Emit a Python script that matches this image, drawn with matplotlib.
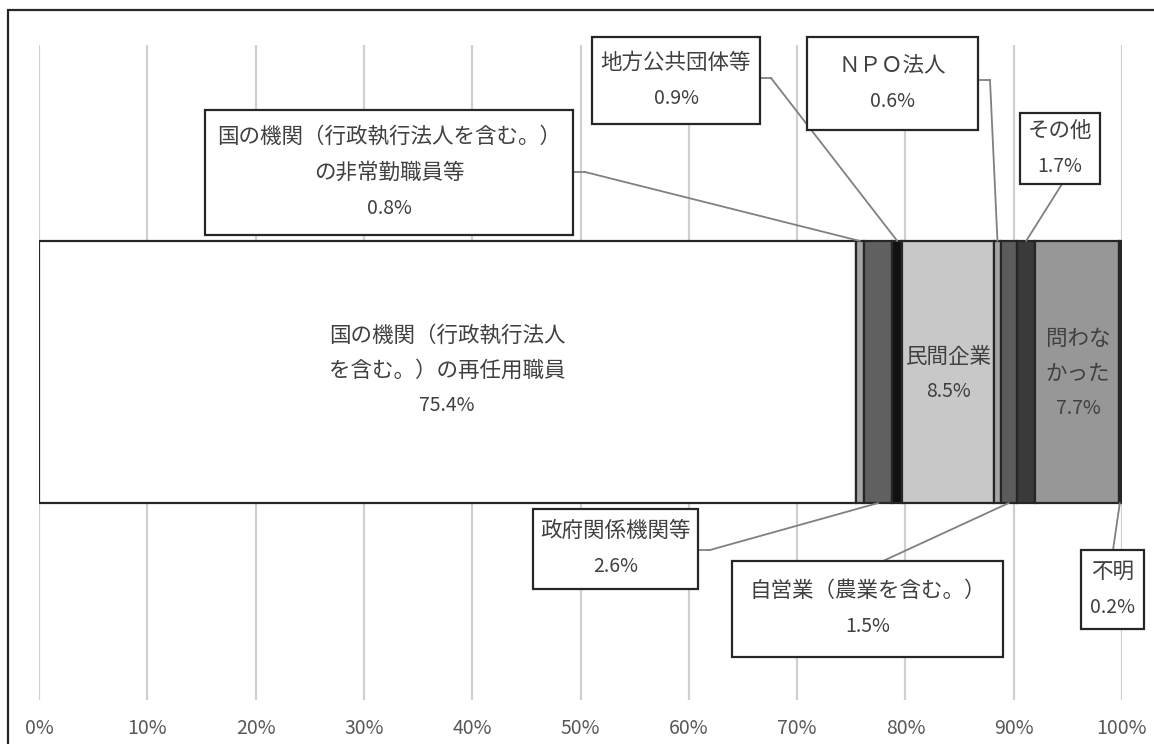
import matplotlib
matplotlib.use('Agg')
import matplotlib.pyplot as plt
from matplotlib.patches import Rectangle
from matplotlib.lines import Line2D
import numpy as np

plt.rcParams['font.family'] = ['Noto Sans CJK JP', 'DejaVu Sans']

categories = ['国の機関（行政執行法人\nを含む。）の再任用職員',
              '国の機関（行政執行法人を含む。）\nの非常勤職員等',
              '政府関係機関等', '地方公共団体等', '民間企業', 'ＮＰＯ法人',
              '自営業（農業を含む。）', 'その他', '問わな\nかった', '不明']
shares = [75.4, 0.8, 2.6, 0.9, 8.5, 0.6, 1.5, 1.7, 7.7, 0.2]
fills = ['#ffffff', '#a6a6a6', '#606060', '#111111', '#c8c8c8',
         '#a6a6a6', '#5c5c5c', '#3a3a3a', '#979797', '#1e1e1e']
ticks = np.arange(0, 101, 10)

W, H = 1154, 744
INK = '#404040'
FS = 14      # digits
FS_JA = 15.5  # kana / kanji lines
GAP = 36


def fp(x, y):
    # pixel (from top-left) -> figure fraction
    return x / W, 1 - y / H


def stacked_text(cx, cy, txt, gap=GAP):
    lines = txt.split('\n')
    n = len(lines)
    for i, s in enumerate(lines):
        y = cy + (i - (n - 1) / 2) * gap
        size = FS if s.isascii() else FS_JA
        fig.text(*fp(cx, y), s, ha='center', va='center', fontsize=size,
                 color=INK, zorder=7)


fig = plt.figure(figsize=(W / 100, H / 100), dpi=100)
ax = fig.add_axes([39 / W, 1 - 700 / H, 1083 / W, 655 / H])

left = np.concatenate([[0], np.cumsum(shares)[:-1]])
ax.barh(0, shares, left=left, height=1, color=fills, edgecolor='#262626',
        linewidth=1.6, zorder=3)

ax.set_xlim(0, 100)
ax.set_ylim(-1.252, 1.248)
ax.set_xticks(ticks)
ax.set_xticklabels([f'{t}%' for t in ticks], fontsize=FS, color='#595959')
ax.set_yticks([])
ax.tick_params(axis='x', length=0, pad=13)
ax.grid(axis='x', color='#d0d0d0', lw=1.6)
ax.set_axisbelow(True)
for sp in ax.spines.values():
    sp.set_visible(False)

# labels inside the big segments
for i, (cx_px, cy_px) in {0: (447, 371), 4: (949, 374), 8: (1078, 374)}.items():
    stacked_text(cx_px, cy_px, f'{categories[i]}\n{shares[i]}%', gap=35)

# callout boxes: box (x0, y0, x1, y1), anchor, elbow, bar side
callouts = {
    1: ((205, 110, 573, 235), (573, 172), (585, 172), 0.5),
    3: ((592, 37, 760, 124), (760, 78), (771, 78), 0.5),
    5: ((807, 37, 978, 130), (978, 80), (990, 80), 0.5),
    7: ((1020, 113, 1100, 184), (1062, 184), None, 0.5),
    2: ((533, 509, 698, 589), (698, 550), (710, 550), -0.5),
    6: ((732, 561, 1003, 657), (883, 561), None, -0.5),
    9: ((1081, 550, 1144, 629), (1113, 550), None, -0.5),
}

for i, (box, anchor, elbow, side) in callouts.items():
    x0, y0, x1, y1 = box
    fig.patches.append(Rectangle(fp(x0, y1), (x1 - x0) / W, (y1 - y0) / H,
                                 transform=fig.transFigure, facecolor='white',
                                 edgecolor='#262626', lw=1.6, zorder=5))
    stacked_text((x0 + x1) / 2, (y0 + y1) / 2, f'{categories[i]}\n{shares[i]}%')
    start = anchor
    if elbow is not None:
        fig.add_artist(Line2D([anchor[0] / W, elbow[0] / W],
                              [1 - anchor[1] / H, 1 - elbow[1] / H],
                              transform=fig.transFigure, color='#808080', lw=1.3))
        start = elbow
    ax.annotate('', xy=(left[i] + shares[i] / 2, side), xycoords='data',
                xytext=fp(*start), textcoords='figure fraction',
                arrowprops=dict(arrowstyle='-', color='#808080', lw=1.3,
                                shrinkA=0, shrinkB=0), zorder=4)

# outer frame (runs off the right and bottom edge)
fig.patches.append(Rectangle(fp(8, 760), 1.1, 750 / H, transform=fig.transFigure,
                             fill=False, edgecolor='#262626', lw=1.6))

fig.savefig('out.png', dpi=100)
